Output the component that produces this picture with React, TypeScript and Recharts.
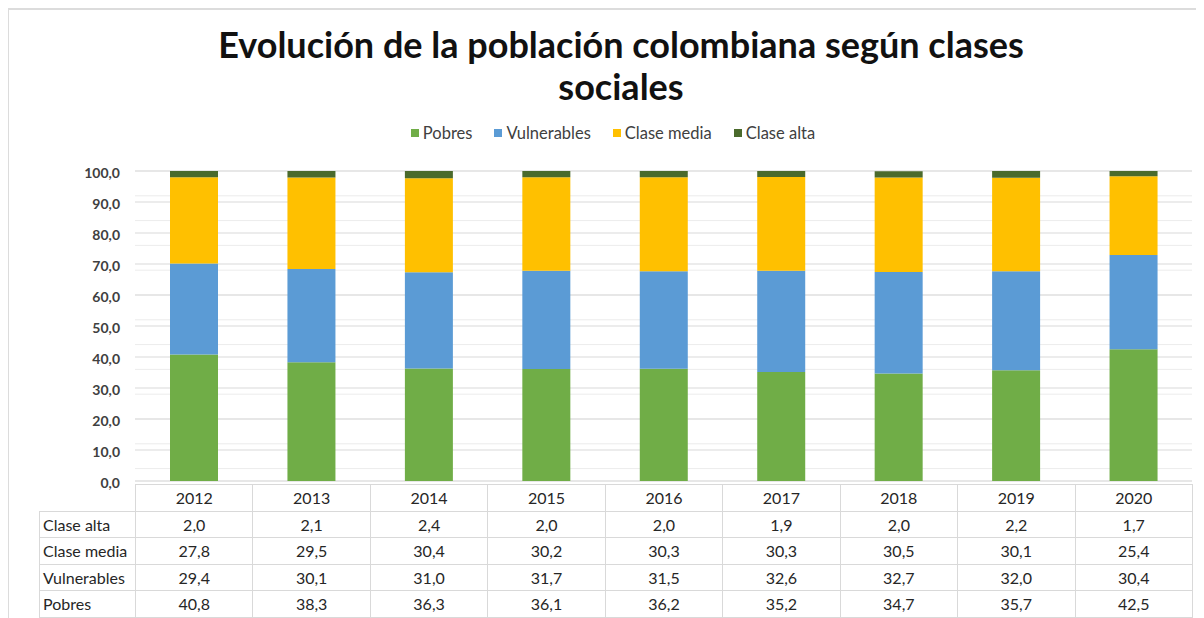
import React from 'react';
import { BarChart, Bar, XAxis, YAxis, CartesianGrid, Legend } from 'recharts';

const years = ['2012', '2013', '2014', '2015', '2016', '2017', '2018', '2019', '2020'];
const pobres = [40.8, 38.3, 36.3, 36.1, 36.2, 35.2, 34.7, 35.7, 42.5];
const vulnerables = [29.4, 30.1, 31.0, 31.7, 31.5, 32.6, 32.7, 32.0, 30.4];
const claseMedia = [27.8, 29.5, 30.4, 30.2, 30.3, 30.3, 30.5, 30.1, 25.4];
const claseAlta = [2.0, 2.1, 2.4, 2.0, 2.0, 1.9, 2.0, 2.2, 1.7];

const yTicks = [0, 10, 20, 30, 40, 50, 60, 70, 80, 90, 100];
const minorTicks = [
  0, 2, 4, 6, 8, 10, 12, 14, 16, 18, 20, 22, 24, 26, 28, 30, 32, 34, 36, 38, 40, 42, 44, 46, 48, 50,
  52, 54, 56, 58, 60, 62, 64, 66, 68, 70, 72, 74, 76, 78, 80, 82, 84, 86, 88, 90, 92, 94, 96, 98, 100,
];

const series = [
  { key: 'pobres', name: 'Pobres', color: '#70AD47', values: pobres },
  { key: 'vulnerables', name: 'Vulnerables', color: '#5B9BD5', values: vulnerables },
  { key: 'media', name: 'Clase media', color: '#FFC000', values: claseMedia },
  { key: 'alta', name: 'Clase alta', color: '#4A6A2C', values: claseAlta },
];

// the table under the chart lists the classes top-down, highest class first
const tableRows = [...series].reverse();

const data = years.map((year, i) => {
  const row: Record<string, string | number> = { year };
  series.forEach((s) => {
    row[s.key] = s.values[i];
  });
  return row;
});

const fmt = (v: number) => v.toFixed(1).replace('.', ',');

const FONT = 'Lato, "Open Sans", sans-serif';
const W = 1196;
const H = 610;
const PLOT_LEFT = 127;
const PLOT_RIGHT = 12;
const PLOT_TOP = 163;
const PLOT_BOTTOM = 137;
const colW = (W - PLOT_LEFT - PLOT_RIGHT) / years.length;

// legend keeps the series order (recharts would sort it by name)
const LegendContent = () => (
  <div style={{ display: 'flex', justifyContent: 'center', gap: 22, fontFamily: FONT, fontSize: 16.5, color: '#404040', paddingLeft: 14 }}>
    {series.map((s) => (
      <div key={s.key} style={{ display: 'flex', alignItems: 'center', gap: 4 }}>
        <span style={{ width: 8, height: 8, background: s.color, display: 'inline-block' }} />
        <span>{s.name}</span>
      </div>
    ))}
  </div>
);

const cell: React.CSSProperties = {
  border: '1px solid #d9d9d9',
  height: 25.5,
  padding: 0,
  textAlign: 'center',
  fontSize: 16,
  color: '#262626',
};

const App: React.FC = () => {
  return (
    <div style={{ position: 'relative', width: W, height: H, borderTop: '2px solid #dcdcdc', borderLeft: '1px solid #dcdcdc', boxSizing: 'border-box', fontFamily: FONT, background: '#fff' }}>
      <div style={{ position: 'absolute', top: 13, left: 14, width: W, textAlign: 'center', fontSize: 36, fontWeight: 700, lineHeight: '42px', color: '#111' }}>
        Evolución de la población colombiana según clases
        <br />
        sociales
      </div>

      <div style={{ position: 'absolute', left: -1, top: -2 }}>
        <BarChart width={W} height={H} data={data} margin={{ top: PLOT_TOP, right: PLOT_RIGHT, bottom: PLOT_BOTTOM, left: 0 }} barSize={48}>
          <YAxis yAxisId="minor" hide domain={[0, 100]} ticks={minorTicks} allowDataOverflow />
          <CartesianGrid yAxisId="minor" vertical={false} stroke="#ececec" />
          <CartesianGrid vertical={false} stroke="#d9d9d9" />
          <XAxis dataKey="year" hide />
          <YAxis
            width={PLOT_LEFT}
            domain={[0, 100]}
            ticks={yTicks}
            allowDataOverflow
            axisLine={false}
            tickLine={false}
            tickMargin={9}
            tickFormatter={fmt}
            tick={{ fontSize: 14, fontWeight: 700, fill: '#404040', fontFamily: FONT, dy: 2 }}
          />
          <Legend verticalAlign="middle" align="center" content={<LegendContent />} wrapperStyle={{ top: 115, left: 0, width: W }} />
          {series.map((s) => (
            <Bar key={s.key} dataKey={s.key} name={s.name} stackId="a" fill={s.color} isAnimationActive={false} />
          ))}
        </BarChart>
      </div>

      <table style={{ position: 'absolute', left: 30, top: H - PLOT_BOTTOM + 1, borderCollapse: 'collapse', tableLayout: 'fixed', width: 96 + colW * years.length, fontFamily: FONT }}>
        <colgroup>
          <col style={{ width: 96 }} />
          {years.map((y) => (
            <col key={y} style={{ width: colW }} />
          ))}
        </colgroup>
        <tbody>
          <tr>
            <td style={{ ...cell, borderTop: 'none', borderLeft: 'none' }} />
            {years.map((y) => (
              <td key={y} style={cell}>{y}</td>
            ))}
          </tr>
          {tableRows.map((s) => (
            <tr key={s.key}>
              <td style={{ ...cell, textAlign: 'left', paddingLeft: 3, whiteSpace: 'nowrap' }}>{s.name}</td>
              {s.values.map((v, i) => (
                <td key={i} style={cell}>{fmt(v)}</td>
              ))}
            </tr>
          ))}
        </tbody>
      </table>
    </div>
  );
};

export default App;
